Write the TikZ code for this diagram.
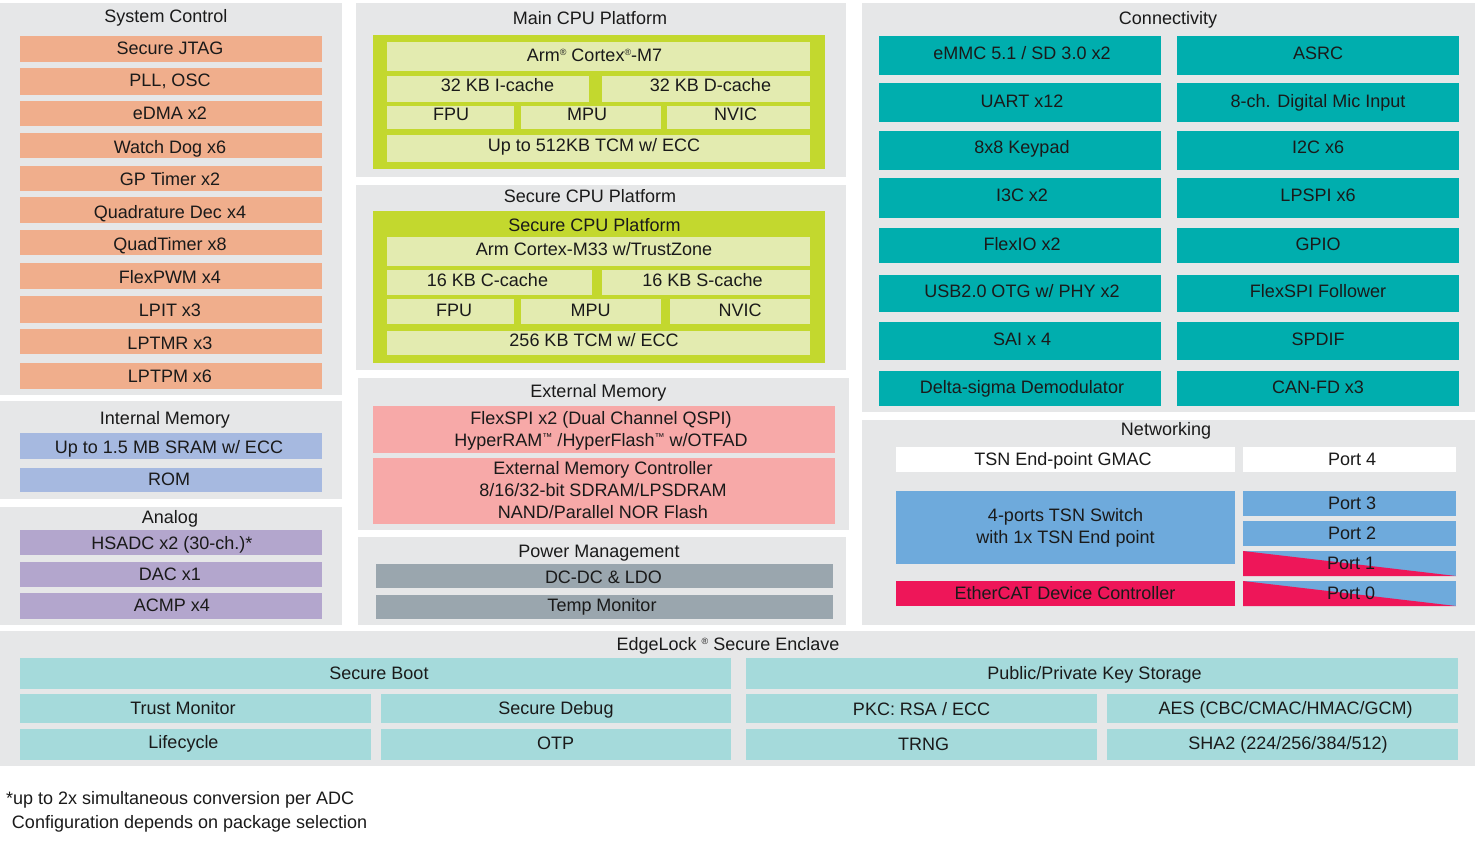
\documentclass[tikz,border=0pt]{standalone}
\usepackage{fontspec}
\setmainfont{Liberation Sans}
\definecolor{panel}{HTML}{E6E7E8}
\definecolor{salmon}{HTML}{F0AE8C}
\definecolor{imem}{HTML}{A6B9E0}
\definecolor{anal}{HTML}{B3A6CD}
\definecolor{lime}{HTML}{C3D82E}
\definecolor{limel}{HTML}{E3EBB0}
\definecolor{emem}{HTML}{F7A9A8}
\definecolor{pgray}{HTML}{9AA6AE}
\definecolor{teal}{HTML}{00AEAE}
\definecolor{nblue}{HTML}{6EAADC}
\definecolor{nred}{HTML}{EE1659}
\definecolor{eteal}{HTML}{A5DADB}
\definecolor{txt}{HTML}{1A1A1A}
% box with separately placed (cap-centred) text
\newcommand{\bx}[9]{%
  \node[blk, fill=#6, minimum width={(#4)-(#2)}, minimum height={(#5)-(#3)}]
    (#1) at ({((#2)+(#4))/2},{((#3)+(#5))/2}) {};
  \node[tc] (#1t) at (#8,#9) {#7};}
% box with multi-line text
\newcommand{\bxm}[9]{%
  \node[blk, fill=#6, minimum width={(#4)-(#2)}, minimum height={(#5)-(#3)}]
    (#1) at ({((#2)+(#4))/2},{((#3)+(#5))/2}) {};
  \node[ml] (#1t) at (#8,#9) {#7};}
\newcommand{\myreg}{{\fontsize{9}{9}\selectfont\raisebox{6pt}{®}}}
\newcommand{\mytm}{{\raisebox{5.5pt}{\fontsize{10}{10}\selectfont ™}}}
\begin{document}
\begin{tikzpicture}[x=1pt,y=-1pt,
  blk/.style={draw=none, inner sep=0pt, outer sep=0pt},
  tc/.style={inner sep=0pt, outer sep=0pt, text=txt, font=\fontsize{18}{22}\selectfont,
    text height=12.9pt, text depth=0pt},
  ml/.style={inner sep=0pt, outer sep=0pt, text=txt, align=center,
    font=\fontsize{18}{22}\selectfont}]
\useasboundingbox[fill=white] (0,0) rectangle (1477,845);
% panels
\node[blk, fill=panel, minimum width=342, minimum height=392] (pSys) at (171,199) {};
\node[blk, fill=panel, minimum width=342, minimum height=98] (pInt) at (171,450) {};
\node[blk, fill=panel, minimum width=342, minimum height=118] (pAna) at (171,566) {};
\node[blk, fill=panel, minimum width=490, minimum height=174] (pMain) at (601,90) {};
\node[blk, fill=panel, minimum width=490, minimum height=185] (pSec) at (601,277.5) {};
\node[blk, fill=panel, minimum width=491, minimum height=152] (pExt) at (603.5,454) {};
\node[blk, fill=panel, minimum width=488, minimum height=88] (pPow) at (602,581) {};
\node[blk, fill=panel, minimum width=613, minimum height=409] (pCon) at (1168.5,207.5) {};
\node[blk, fill=panel, minimum width=613, minimum height=205] (pNet) at (1168.5,522.5) {};
\node[blk, fill=panel, minimum width=1475, minimum height=135] (pEdge) at (737.5,698.5) {};
% titles
\node[tc] (tSys) at (166,15.8) {System Control};
\node[tc] (tInt) at (165,417.7) {Internal Memory};
\node[tc] (tAna) at (170,516.7) {Analog};
\node[tc] (tMain) at (590,18) {Main CPU Platform};
\node[tc] (tSec) at (590,196.2) {Secure CPU Platform};
\node[tc] (tExt) at (598.5,391.2) {External Memory};
\node[tc] (tPow) at (599,551.2) {Power Management};
\node[tc] (tCon) at (1168,17.7) {Connectivity};
\node[tc] (tNet) at (1166,429.5) {Networking};
\node[tc] (tEdge) at (728,644.2) {EdgeLock \myreg{} Secure Enclave};
% system control
\bx{s1}{20}{36}{322}{62}{salmon}{Secure JTAG}{170}{48.3}
\bx{s2}{20}{68}{322}{95}{salmon}{PLL, OSC}{170}{80.3}
\bx{s3}{20}{101}{322}{126}{salmon}{eDMA x2}{170}{113.3}
\bx{s4}{20}{133}{322}{158}{salmon}{Watch Dog x6}{170}{146.7}
\bx{s5}{20}{166}{322}{191}{salmon}{GP Timer x2}{170}{179.3}
\bx{s6}{20}{197}{322}{223}{salmon}{Quadrature Dec x4}{170}{212.5}
\bx{s7}{20}{230}{322}{255}{salmon}{QuadTimer x8}{170}{244}
\bx{s8}{20}{263}{322}{289}{salmon}{FlexPWM x4}{170}{277.3}
\bx{s9}{20}{296}{322}{323}{salmon}{LPIT x3}{170}{310}
\bx{s10}{20}{329}{322}{354}{salmon}{LPTMR x3}{170}{343.3}
\bx{s11}{20}{363}{322}{389}{salmon}{LPTPM x6}{170}{376}
% internal memory
\bx{m1}{20}{433}{322}{459}{imem}{Up to 1.5 MB SRAM w/ ECC}{169}{447.5}
\bx{m2}{20}{468}{322}{492}{imem}{ROM}{169}{479.5}
% analog
\bx{a1}{20}{530}{322}{555}{anal}{HSADC x2 (30-ch.)*}{172}{542.8}
\bx{a2}{20}{562}{322}{587}{anal}{DAC x1}{170}{574.2}
\bx{a3}{20}{593}{322}{619}{anal}{ACMP x4}{172}{605.5}
% main cpu
\node[blk, fill=lime, minimum width=452, minimum height=134] (mg) at (599,102) {};
\bx{mc1}{387}{42}{810}{71}{limel}{Arm\myreg{} Cortex\myreg{}-M7}{594.5}{55}
\bx{mc2}{387}{76}{589}{102}{limel}{32 KB I-cache}{497.5}{85.5}
\bx{mc3}{602}{76}{810}{102}{limel}{32 KB D-cache}{710.5}{85.5}
\bx{mc4}{387}{106}{514}{129}{limel}{FPU}{451}{114.5}
\bx{mc5}{521}{106}{661}{129}{limel}{MPU}{587}{114.5}
\bx{mc6}{667}{106}{810}{129}{limel}{NVIC}{735.5}{114.5}
\bx{mc7}{387}{135}{810}{162}{limel}{Up to 512KB TCM w/ ECC}{594}{145.5}
% secure cpu
\node[blk, fill=lime, minimum width=452, minimum height=152] (sg) at (599,287) {};
\node[tc] (sgt) at (594.5,225) {Secure CPU Platform};
\bx{sc1}{387}{237}{810}{266}{limel}{Arm Cortex-M33 w/TrustZone}{594}{249.5}
\bx{sc2}{387}{270}{592}{295}{limel}{16 KB C-cache}{487.5}{280.3}
\bx{sc3}{602}{270}{810}{295}{limel}{16 KB S-cache}{702.5}{280.3}
\bx{sc4}{387}{299}{514}{324}{limel}{FPU}{454}{309.7}
\bx{sc5}{521}{299}{661}{324}{limel}{MPU}{590.5}{309.7}
\bx{sc6}{670}{299}{810}{324}{limel}{NVIC}{740}{309.7}
\bx{sc7}{387}{331}{810}{355}{limel}{256 KB TCM w/ ECC}{594}{340.3}
% external memory
\bxm{e1}{373}{406}{835}{453}{emem}{FlexSPI x2 (Dual Channel QSPI)\\HyperRAM\mytm{} /HyperFlash\mytm{} w/OTFAD}{601}{430.5}
\bxm{e2}{373}{458}{835}{524}{emem}{External Memory Controller\\8/16/32-bit SDRAM/LPSDRAM\\NAND/Parallel NOR Flash}{603}{490}
% power
\bx{p1}{376}{564}{833}{588}{pgray}{DC-DC \& LDO}{603.5}{577.5}
\bx{p2}{376}{595}{833}{619}{pgray}{Temp Monitor}{602}{604.8}
% connectivity
\bx{c1}{879}{36}{1161}{75}{teal}{eMMC 5.1 / SD 3.0 x2}{1022}{52.8}
\bx{c2}{1177}{36}{1459}{75}{teal}{ASRC}{1318}{52.8}
\bx{c3}{879}{83}{1161}{122}{teal}{UART x12}{1022}{100.7}
\bx{c4}{1177}{83}{1459}{122}{teal}{8-ch. Digital Mic Input}{1318}{100.7}
\bx{c5}{879}{131}{1161}{170}{teal}{8x8 Keypad}{1022}{147.5}
\bx{c6}{1177}{131}{1459}{170}{teal}{I2C x6}{1318}{147.5}
\bx{c7}{879}{178}{1161}{218}{teal}{I3C x2}{1022}{195.5}
\bx{c8}{1177}{178}{1459}{218}{teal}{LPSPI x6}{1318}{195.5}
\bx{c9}{879}{228}{1161}{263}{teal}{FlexIO x2}{1022}{243.7}
\bx{c10}{1177}{228}{1459}{263}{teal}{GPIO}{1318}{243.7}
\bx{c11}{879}{275}{1161}{312}{teal}{USB2.0 OTG w/ PHY x2}{1022}{290.8}
\bx{c12}{1177}{275}{1459}{312}{teal}{FlexSPI Follower}{1318}{290.8}
\bx{c13}{879}{322}{1161}{360}{teal}{SAI x 4}{1022}{339}
\bx{c14}{1177}{322}{1459}{360}{teal}{SPDIF}{1318}{339}
\bx{c15}{879}{371}{1161}{406}{teal}{Delta-sigma Demodulator}{1022}{386.7}
\bx{c16}{1177}{371}{1459}{406}{teal}{CAN-FD x3}{1318}{386.7}
% networking
\bx{n1}{896}{447}{1235}{472}{white}{TSN End-point GMAC}{1063}{458.8}
\bx{n2}{1243}{447}{1456}{472}{white}{Port 4}{1352}{459.5}
\bxm{n3}{896}{491}{1235}{564}{nblue}{4-ports TSN Switch\\with 1x TSN End point}{1065.5}{527.5}
\bx{n4}{1243}{491}{1456}{516}{nblue}{Port 3}{1352}{503}
\bx{n5}{1243}{521}{1456}{546}{nblue}{Port 2}{1352}{533.5}
\node[blk, fill=nblue, minimum width=213, minimum height=25] (n6) at (1349.5,563.5) {};
\fill[nred] (n6.north west) -- (n6.south east) -- (n6.south west) -- cycle;
\node[tc] (n6t) at (1351,563.5) {Port 1};
\node[blk, fill=nblue, minimum width=213, minimum height=25] (n7) at (1349.5,593.5) {};
\fill[nred] (n7.north west) -- (n7.south east) -- (n7.south west) -- cycle;
\node[tc] (n7t) at (1351,593.5) {Port 0};
\bx{n8}{896}{581}{1235}{606}{nred}{EtherCAT Device Controller}{1065}{593.5}
% edgelock
\bx{g1}{20}{658}{731}{689}{eteal}{Secure Boot}{379}{672.8}
\bx{g2}{746}{658}{1458}{689}{eteal}{Public/Private Key Storage}{1094.5}{673}
\bx{g3}{20}{694}{371}{723}{eteal}{Trust Monitor}{183}{707.7}
\bx{g4}{381}{694}{731}{723}{eteal}{Secure Debug}{556}{707.7}
\bx{g5}{746}{694}{1097}{723}{eteal}{PKC: RSA / ECC}{921.5}{709}
\bx{g6}{1107}{694}{1458}{723}{eteal}{AES (CBC/CMAC/HMAC/GCM)}{1285.5}{708.5}
\bx{g7}{20}{729}{371}{760}{eteal}{Lifecycle}{183.5}{742.5}
\bx{g8}{381}{729}{731}{760}{eteal}{OTP}{555.5}{742.8}
\bx{g9}{746}{729}{1097}{760}{eteal}{TRNG}{923.5}{744.3}
\bx{g10}{1107}{729}{1458}{760}{eteal}{SHA2 (224/256/384/512)}{1288}{742.7}
% footnote
\node[tc, anchor=west] (f1) at (6,797.8) {*up to 2x simultaneous conversion per ADC};
\node[tc, anchor=west] (f2) at (12,822.3) {Configuration depends on package selection};
\end{tikzpicture}
\end{document}
